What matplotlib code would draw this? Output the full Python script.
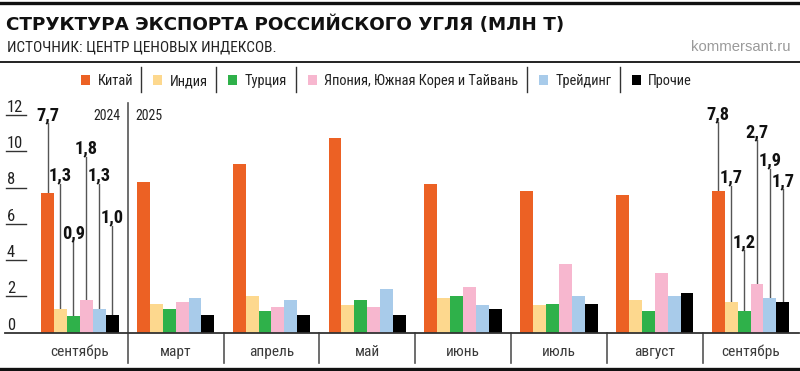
import matplotlib
matplotlib.use('Agg')
import matplotlib.pyplot as plt
import matplotlib.font_manager as fm
from matplotlib.lines import Line2D
from matplotlib.patches import Rectangle
import numpy as np

# ---------------- data ----------------
months = ['сентябрь', 'март', 'апрель', 'май', 'июнь', 'июль', 'август', 'сентябрь']
series_names = ['Китай', 'Индия', 'Турция', 'Япония, Южная Корея и Тайвань', 'Трейдинг', 'Прочие']
china = [7.7, 8.3, 9.3, 10.7, 8.2, 7.8, 7.6, 7.8]
india = [1.3, 1.6, 2.0, 1.5, 1.9, 1.5, 1.8, 1.7]
turkey = [0.9, 1.3, 1.2, 1.8, 2.0, 1.6, 1.2, 1.2]
japan_korea_taiwan = [1.8, 1.7, 1.4, 1.4, 2.5, 3.8, 3.3, 2.7]
trading = [1.3, 1.9, 1.8, 2.4, 1.5, 2.0, 2.0, 1.9]
other = [1.0, 1.0, 1.0, 1.0, 1.3, 1.6, 2.2, 1.7]
labels_sep2024 = ['7,7', '1,3', '0,9', '1,8', '1,3', '1,0']
labels_sep2025 = ['7,8', '1,7', '1,2', '2,7', '1,9', '1,7']
yticks = [0, 2, 4, 6, 8, 10, 12]
year_labels = ['2024', '2025']
title = 'СТРУКТУРА ЭКСПОРТА РОССИЙСКОГО УГЛЯ (МЛН Т)'
subtitle = 'ИСТОЧНИК: ЦЕНТР ЦЕНОВЫХ ИНДЕКСОВ.'
source = 'kommersant.ru'

# ---------------- style / layout ----------------
colors = ['#EC6124', '#FDD88E', '#2FB14A', '#F7B7CF', '#A8CBEA', '#000000']
leader_top_2024 = [11.55, 8.2, 5.05, 9.7, 8.2, 5.9]
leader_top_2025 = [11.6, 8.1, 4.55, 10.6, 9.04, 7.9]


def pick_narrow():
    names = {f.name for f in fm.fontManager.ttflist}
    for nm in ['Liberation Sans Narrow', 'Roboto Condensed', 'Noto Sans Condensed',
               'Noto Sans SemiCondensed', 'Open Sans Condensed', 'Arial Narrow',
               'DejaVu Sans Condensed']:
        if nm in names:
            return {'family': [nm, 'DejaVu Sans']}
    for f in fm.fontManager.ttflist:
        st = f.stretch
        if (isinstance(st, str) and 'condensed' in st) or (isinstance(st, int) and st < 500):
            return {'family': [f.name, 'DejaVu Sans'], 'stretch': st}
    return {'family': ['Roboto', 'Liberation Sans', 'DejaVu Sans']}


NARROW = pick_narrow()

W, H = 800, 371
fig = plt.figure(figsize=(W / 100, H / 100), dpi=100)
fig.patch.set_facecolor('white')
renderer = fig.canvas.get_renderer()


def fx(x):
    return x / W


def fy(y):
    return 1 - y / H


def fline(x0, y0, x1, y1, **kw):
    fig.add_artist(Line2D([fx(x0), fx(x1)], [fy(y0), fy(y1)],
                          transform=fig.transFigure, **kw))


def width_px(t):
    return t.get_window_extent(renderer).width


def fit(t, target):
    t.set_fontsize(t.get_fontsize() * target / width_px(t))
    return t.get_fontsize()


# axes geometry in pixels
PX_PER_UNIT = 18.15
BASE_Y = 332.7
AX_LEFT, AX_RIGHT = 31.9, 798.5
AX_TOP, AX_BOT = 103.0, 363.0
GROUP_W = (AX_RIGHT - AX_LEFT) / 8

ax = fig.add_axes([fx(AX_LEFT), fy(AX_BOT), (AX_RIGHT - AX_LEFT) / W, (AX_BOT - AX_TOP) / H])
ymin = -(AX_BOT - BASE_Y) / PX_PER_UNIT
ymax = (BASE_Y - AX_TOP) / PX_PER_UNIT
ax.set_xlim(-0.5, 7.5)
ax.set_ylim(ymin, ymax)
ax.axis('off')


def dx(px):
    return -0.5 + (px - AX_LEFT) / GROUP_W


def dy(py):
    return (BASE_Y - py) / PX_PER_UNIT


series = [china, india, turkey, japan_korea_taiwan, trading, other]
bw = 12.9 / GROUP_W
x = np.arange(len(months))
for i, (vals, c) in enumerate(zip(series, colors)):
    ax.bar(x + (i - 2.5) * bw, vals, width=bw, color=c, edgecolor='none', zorder=3)

# baseline
ax.plot([dx(5), 7.5], [0, 0], color='#333333', lw=1.3, clip_on=False, zorder=4)

# y ticks: underlined numbers
probe = ax.text(0, 0, '10', fontsize=10, **NARROW)
tick_size = fit(probe, 16)
probe.remove()
for v in yticks:
    if v > 0:
        ax.plot([dx(6), dx(26.5)], [v, v], color='#333333', lw=1.0, clip_on=False)
    ax.text(dx(7), v + 0.17, str(v), ha='left', va='baseline', fontsize=tick_size,
            color='#222222', **NARROW)

# separators
ax.plot([0.5, 0.5], [ymin, ymax], color='#555555', lw=1.2, clip_on=False)
for g in range(1, 7):
    ax.plot([g + 0.5, g + 0.5], [ymin, 0], color='#555555', lw=1.2, clip_on=False)

ty1 = ax.text(dx(120), dy(120), year_labels[0], ha='right', va='baseline', fontsize=10,
              color='#222222', **NARROW)
ys = fit(ty1, 27)
ax.text(dx(135), dy(120), year_labels[1], ha='left', va='baseline', fontsize=ys,
        color='#222222', **NARROW)

# category labels
cat_texts = [ax.text(i, dy(356), m, ha='center', va='baseline', fontsize=11,
                     color='#3a3a3a', **NARROW) for i, m in enumerate(months)]
cs = min(fit(cat_texts[2], 45), 12.5)
for t in cat_texts:
    t.set_fontsize(cs)

# annotations for first and last groups
ann = []
for gi, labs, tops in [(0, labels_sep2024, leader_top_2024), (7, labels_sep2025, leader_top_2025)]:
    for i, (lab, top) in enumerate(zip(labs, tops)):
        xc = gi + (i - 2.5) * bw
        val = series[i][gi]
        ax.plot([xc, xc], [val, top], color='#555555', lw=1.0, zorder=2)
        ann.append(ax.text(xc, top + 0.17, lab, ha='center', va='baseline', fontsize=13,
                           weight='bold', color='#111111', **NARROW))
asz = min(fit(ann[0], 23), 14.5)
for t in ann:
    t.set_fontsize(asz)

# ---------------- header ----------------
fline(0, 2.7, 800, 2.7, color='#111111', lw=2.4)
tt = fig.text(fx(6.5), fy(29.5), title, ha='left', va='baseline', fontsize=13,
              weight='bold', family=['DejaVu Sans'], color='#111111')
fit(tt, 558)
st = fig.text(fx(7), fy(51), subtitle, ha='left', va='baseline', fontsize=10,
              color='#222222', **NARROW)
fit(st, 270)
src = fig.text(fx(790), fy(51), source, ha='right', va='baseline', fontsize=10.5,
               family=['Liberation Sans', 'DejaVu Sans'], color='#9a9a9a')
fit(src, 100)
fline(0, 61.7, 800, 61.7, color='#222222', lw=1.4)

# legend: dynamic layout centred like the reference
leg_texts = [fig.text(0, fy(85), name, ha='left', va='baseline', fontsize=10.5,
                      color='#222222', **NARROW) for name in series_names]
ls = min(fit(leg_texts[3], 197), 11)
for t in leg_texts:
    t.set_fontsize(ls)
SQ, G1, G2, G3 = 9, 7.5, 8.5, 12
widths = [width_px(t) for t in leg_texts]
total = sum(SQ + G1 + w for w in widths) + (len(widths) - 1) * (G2 + G3)
cx = (81 + 692) / 2
xcur = cx - total / 2
for i, (t, w, c) in enumerate(zip(leg_texts, widths, colors)):
    fig.add_artist(Rectangle((fx(xcur), fy(85)), SQ / W, 10 / H, transform=fig.transFigure,
                             facecolor=c, edgecolor='none'))
    t.set_x(fx(xcur + SQ + G1))
    xcur += SQ + G1 + w
    if i < len(leg_texts) - 1:
        fline(xcur + G2, 67, xcur + G2, 92, color='#333333', lw=1.0)
        xcur += G2 + G3

# bottom line
fline(0, 368.5, 800, 368.5, color='#111111', lw=2.4)

fig.savefig('out.png', dpi=100, facecolor='white')
